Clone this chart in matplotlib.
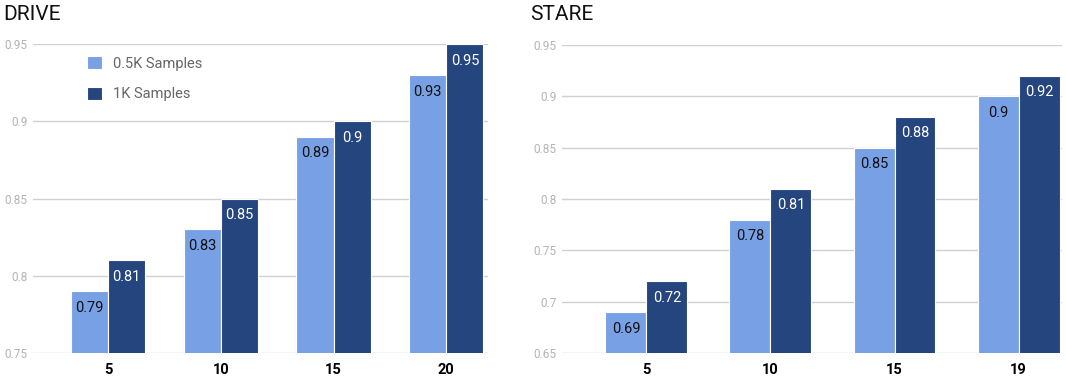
import matplotlib
matplotlib.use("Agg")
import matplotlib.pyplot as plt
import numpy as np

plt.rcParams['font.family'] = ['Roboto', 'DejaVu Sans']

# data
drive_cats = ['5', '10', '15', '20']
drive_half = [0.79, 0.83, 0.89, 0.93]
drive_full = [0.81, 0.85, 0.90, 0.95]

stare_cats = ['5', '10', '15', '19']
stare_half = [0.69, 0.78, 0.85, 0.90]
stare_full = [0.72, 0.81, 0.88, 0.92]

series_names = ['0.5K Samples', '1K Samples']

light = '#78a0e4'
dark = '#25457f'


def draw(ax, cats, half, full, yticks, ylim, xlim):
    x = np.arange(len(cats))
    w = 0.33
    b1 = ax.bar(x - w / 2, half, w, color=light, edgecolor='white', linewidth=0.8,
                label=series_names[0], zorder=3)
    b2 = ax.bar(x + w / 2, full, w, color=dark, edgecolor='white', linewidth=0.8,
                label=series_names[1], zorder=3)
    ax.bar_label(b1, labels=[f'{v:g}' for v in half], padding=-17, color='#111111',
                 fontsize=10.5, zorder=4)
    ax.bar_label(b2, labels=[f'{v:g}' for v in full], padding=-17, color='white',
                 fontsize=10.5, zorder=4)
    ax.set_ylim(*ylim)
    ax.set_xlim(*xlim)
    ax.set_yticks(yticks)
    ax.set_yticklabels([f'{t:g}' for t in yticks])
    ax.set_xticks(x)
    ax.set_xticklabels(cats, fontweight='bold', fontsize=10.5)
    ax.tick_params(axis='y', length=0, pad=4, labelsize=8.5, labelcolor='#b4b4b4')
    ax.tick_params(axis='x', length=0, pad=7)
    ax.grid(axis='y', color='#d0d0d0', linewidth=1, zorder=0)
    for s in ax.spines.values():
        s.set_visible(False)


fig = plt.figure(figsize=(10.66, 3.79), dpi=100)
ax1 = fig.add_axes([33 / 1066, 26 / 379, 455 / 1066, 309 / 379])
ax2 = fig.add_axes([562 / 1066, 26 / 379, 500 / 1066, 308 / 379])

draw(ax1, drive_cats, drive_half, drive_full,
     [0.75, 0.8, 0.85, 0.9, 0.95], (0.75, 0.95), (-0.665, 3.37))
draw(ax2, stare_cats, stare_half, stare_full,
     [0.65, 0.7, 0.75, 0.8, 0.85, 0.9, 0.95], (0.65, 0.95), (-0.68, 3.35))

fig.text(3 / 1066, 1 - 15 / 379, 'DRIVE', fontsize=15, va='center', ha='left', color='#111111')
fig.text(530 / 1066, 1 - 15 / 379, 'STARE', fontsize=15, va='center', ha='left', color='#111111')

leg = ax1.legend(loc='upper left', bbox_to_anchor=(0.119, 0.96), frameon=False,
                 borderaxespad=0, borderpad=0, handlelength=1.0, handleheight=1.0,
                 handletextpad=0.75, labelspacing=1.1, fontsize=10.5)
for t in leg.get_texts():
    t.set_color('#666666')

fig.savefig('out.png', dpi=100)
